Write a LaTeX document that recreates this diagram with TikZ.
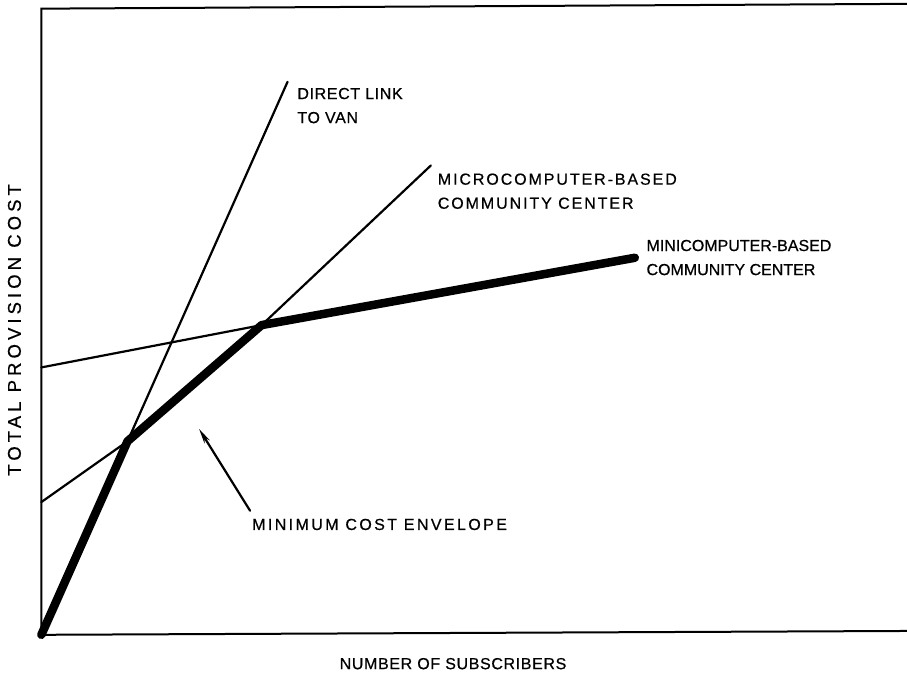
\documentclass[tikz,border=0pt]{standalone}
\usepackage{fontspec}
\setmainfont[FakeBold=0.6]{Liberation Sans}
\usetikzlibrary{arrows.meta,calc}
\newcommand{\labfont}[1]{\fontsize{16}{19}\selectfont\addfontfeatures{LetterSpace=#1,FakeBold=0.6}}
\begin{document}
\begin{tikzpicture}[x=0.962pt,y=-0.962pt,
  thinline/.style={line width=2.2pt, line cap=round, line join=round},
  thickline/.style={line width=8.5pt, line cap=round, line join=round},
  frameline/.style={line width=2pt},
  lab/.style={inner sep=0pt, anchor=base west}]
\useasboundingbox (0,0) rectangle (943,700);
% frame
\coordinate (TL) at (43,9);
\coordinate (TR) at (943,4);
\coordinate (O) at (43,660);
\coordinate (BR) at (943,656);
\draw[frameline] (TR) -- (TL) -- (O) -- (BR);
% key points
\coordinate (Dtop) at (299,85);
\coordinate (C1) at ($(O)!0.35!(Dtop)$);
\coordinate (K) at (272,338);
\coordinate (Mend) at (660,268);
\coordinate (Utop) at (448,172);
\coordinate (Uax) at (43,522);
\coordinate (Iax) at (43,382);
% cost lines
\draw[thinline] (O) -- (Dtop);
\draw[thinline] (Uax) -- (C1) -- (K) -- (Utop);
\draw[thinline] (Iax) -- (K);
\draw[thickline] (O) -- (C1) -- (K) -- (Mend);
% labels
\node[lab, font=\labfont{4}] (dl) at (309,103) {DIRECT LINK};
\node[lab, font=\labfont{4}] (dv) at (309,128) {TO VAN};
\node[lab, font=\labfont{12}] (ul) at (455,192) {MICROCOMPUTER-BASED};
\node[lab, font=\labfont{12}] (uv) at (455,217) {COMMUNITY CENTER};
\node[lab, font=\labfont{0}] (il) at (672,261) {MINICOMPUTER-BASED};
\node[lab, font=\labfont{0}] (iv) at (672,286) {COMMUNITY CENTER};
\node[lab, font=\labfont{15}] (env) at (262,551) {MINIMUM COST ENVELOPE};
\coordinate (Atip) at (207,446);
\draw[thinline, -{Stealth[length=15pt,width=6pt]}] ($(env.base west)+(-2,-20)$) -- (Atip);
\node[inner sep=0pt, font=\labfont{4}] (xl) at (471,690) {NUMBER OF SUBSCRIBERS};
\node[inner sep=0pt, font=\fontsize{18.5}{22}\selectfont\addfontfeatures{LetterSpace=22,FakeBold=0.6}, rotate=90] (yl) at (15,343) {TOTAL PROVISION COST};
\end{tikzpicture}
\end{document}
